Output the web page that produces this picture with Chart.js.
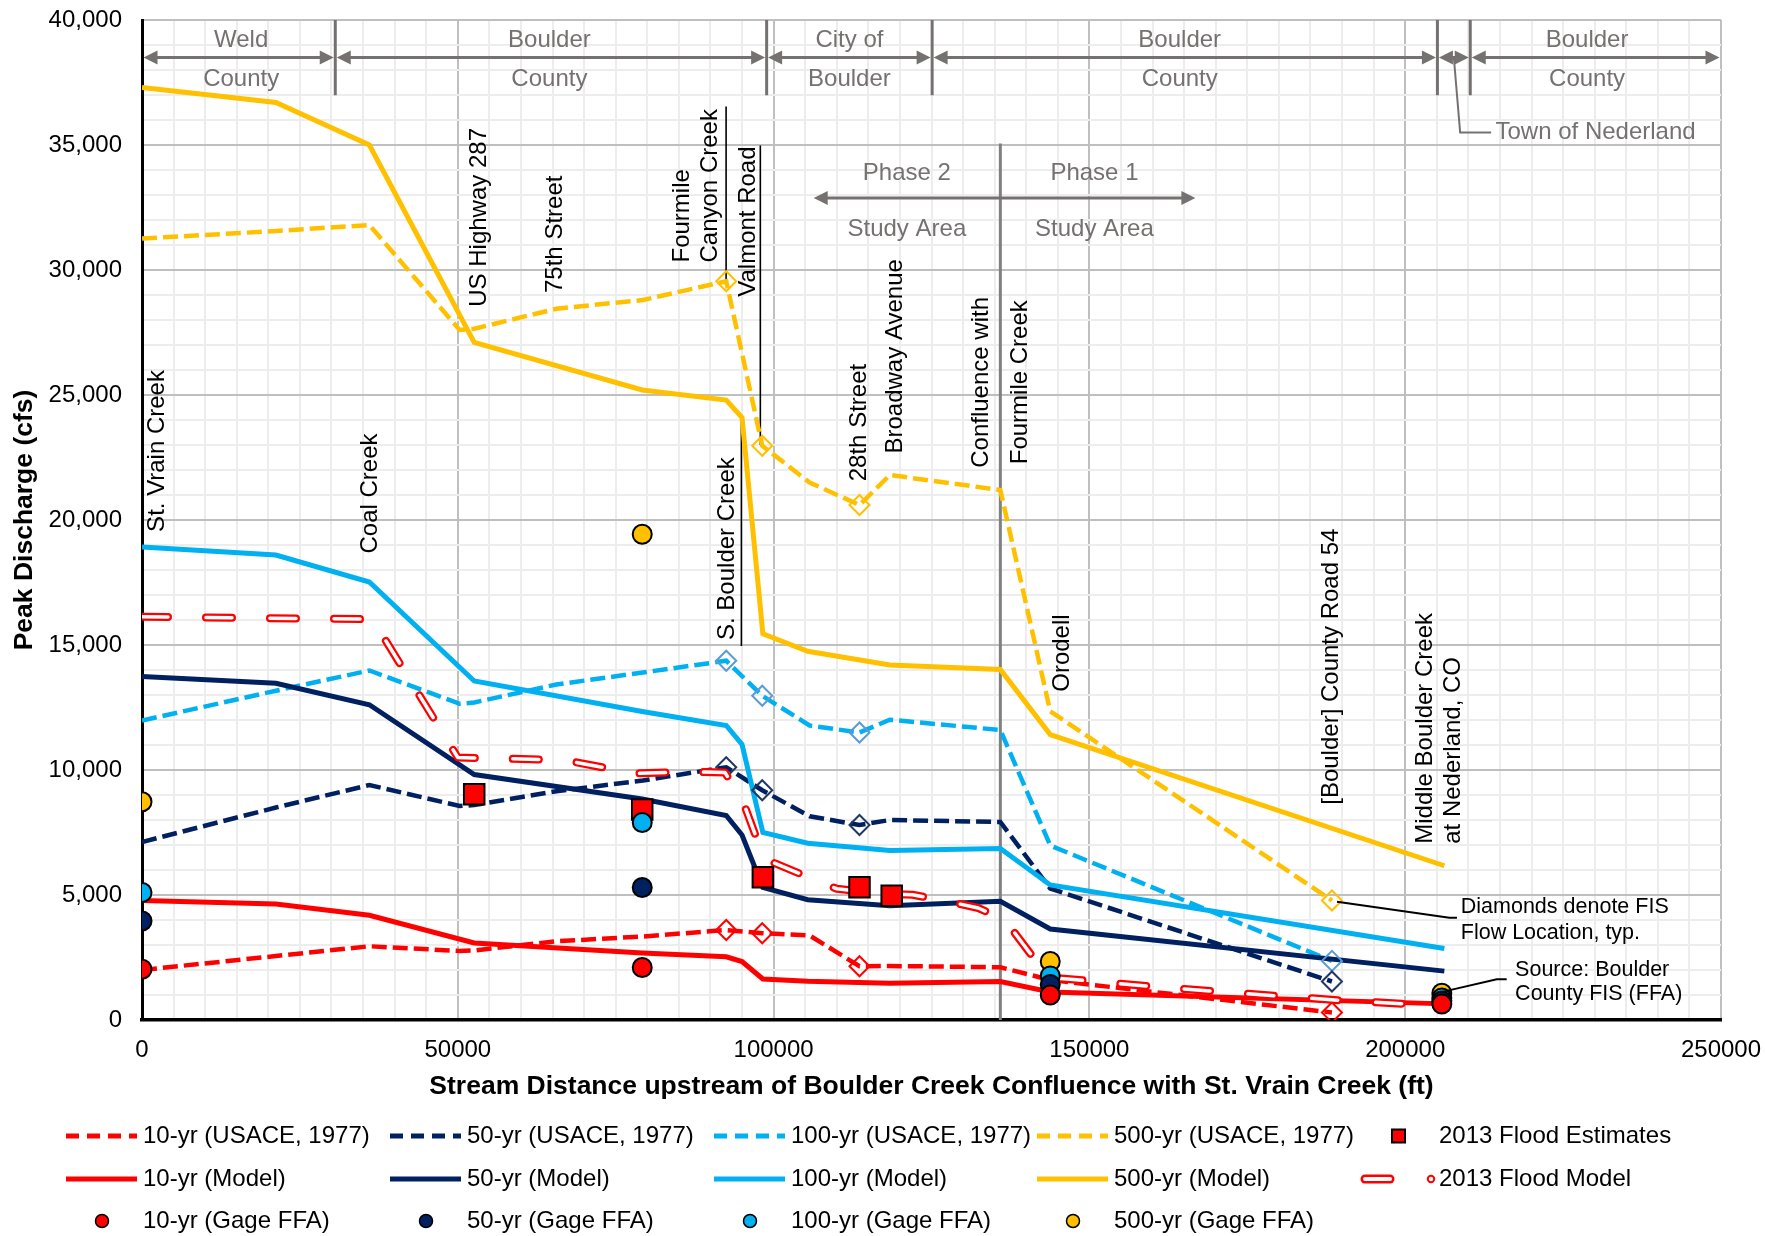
<!DOCTYPE html>
<html>
<head>
<meta charset="utf-8">
<title>Boulder Creek Peak Discharge Profiles</title>
<script src="https://cdn.jsdelivr.net/npm/chart.js@4.4.1/dist/chart.umd.min.js"></script>
<style>
  html, body { margin: 0; padding: 0; background: #ffffff; }
  canvas { display: block; }
</style>
</head>
<body>
<canvas id="chart" width="1765" height="1236"></canvas>
<script>
// ---- Stream stations (ft upstream of the St. Vrain confluence) and discharges (cfs) ----
const usaceX   = [0, 21200, 36000, 50300, 52600, 65600, 79300, 92500, 98200, 105700, 113600, 118400, 135900, 143800, 188400];
const usace10  = [2000, 2560, 2950, 2760, 2780, 3150, 3340, 3600, 3470, 3380, 2150, 2160, 2110, 1600, 300];
const usace50  = [7120, 8500, 9400, 8560, 8600, 9150, 9580, 10110, 9190, 8150, 7800, 8000, 7920, 5260, 1540];
const usace100 = [11980, 13170, 13980, 12650, 12700, 13420, 13900, 14370, 12970, 11780, 11500, 12010, 11600, 6980, 2365];
const usace500 = [31260, 31560, 31800, 27600, 27650, 28450, 28800, 29550, 22970, 21500, 20600, 21800, 21200, 12350, 4780];

// FIS flow locations (marked with diamonds on the USACE profiles)
const fisX = [92500, 98200, 113600, 188400];

const modelX   = [0, 21200, 36000, 52600, 79200, 92500, 95000, 98300, 105400, 118400, 135900, 143800, 206200];
const model10  = [4780, 4640, 4190, 3080, 2680, 2530, 2340, 1640, 1550, 1470, 1540, 1120, 645];
const model50  = [13740, 13470, 12610, 9820, 8840, 8180, 7400, 5300, 4810, 4570, 4750, 3640, 1955];
const model100 = [18920, 18600, 17520, 13560, 12340, 11780, 11020, 7500, 7070, 6780, 6860, 5400, 2860];
const model500 = [37300, 36700, 35000, 27100, 25200, 24800, 24100, 15450, 14750, 14200, 14020, 11420, 6170];

const flood2013X = [0, 36500, 50000, 66800, 78000, 86000, 92300, 95100, 98500, 107000, 110000, 117100, 122000, 127400, 132400, 136600, 143500, 146000, 160000, 175000, 190000, 206500];
const flood2013  = [16130, 16030, 10500, 10400, 9860, 9930, 9900, 8780, 6450, 5550, 5250, 5050, 5010, 4750, 4480, 4010, 1700, 1650, 1340, 1050, 780, 560];

const estimateX = [52600, 79200, 98300, 113600, 118700];
const estimate  = [9030, 8420, 5710, 5310, 4970];

const gageX   = [0, 79200, 143800, 205800];
const gage10  = [2030, 2100, 1000, 640];
const gage50  = [3960, 5300, 1420, 760];
const gage100 = [5100, 7900, 1765, 880];
const gage500 = [8730, 19430, 2340, 1070];

// Location labels along the profile: [text lines], station, discharge at text base
const locationLabels = [
  [['St. Vrain Creek'], 2400, 19525],
  [['Coal Creek'], 36090, 18660],
  [['US Highway 287'], 53360, 28530],
  [['75th Street'], 65460, 29080],
  [['Fourmile', 'Canyon Creek'], 85630, 30300],
  [['Valmont Road'], 96080, 28930],
  [['S. Boulder Creek'], 92730, 15200],
  [['28th Street'], 113560, 21550],
  [['Broadway Avenue'], 119340, 22660],
  [['Confluence with'], 132830, 22090],
  [['Fourmile Creek'], 139110, 22230],
  [['Orodell'], 145740, 13130],
  [['[Boulder] County Road 54'], 188240, 8610],
  [['Middle Boulder Creek', 'at Nederland, CO'], 203250, 7050]
];

// Jurisdiction bands along the top of the plot
const jurisdictionBounds = [0, 30600, 98900, 125100, 205100, 210300, 250000];
const jurisdictionText = [['Weld', 'County'], ['Boulder', 'County'], ['City of', 'Boulder'], ['Boulder', 'County'], null, ['Boulder', 'County']];
const jurisdictionTextX = [15700, 64500, 112000, 164300, null, 228800];

const xTickStep = 5000, xLabelStep = 50000;
const yTickStep = 1000, yLabelStep = 5000;

// ---- styling ----
const COL = { red: '#FF0000', navy: '#002060', blue: '#00B0F0', gold: '#FFC000', grey: '#767171' };
const DIAMOND = { red: '#FF0000', navy: '#1F3864', blue: '#5B9BD5', gold: '#FFC000' };
const FONT = '"Liberation Sans", Arial, Helvetica, sans-serif';
const DASH = [15, 6];
const FLOOD_DASH = [26, 38];

const toPoints = (xs, ys) => xs.map((x, i) => ({ x: x, y: ys[i] }));
const atStations = (xs, ys, st) => st.map(s => ({ x: s, y: ys[xs.indexOf(s)] }));

function usaceSet(label, ys, color) {
  return { label, data: toPoints(usaceX, ys), showLine: true, borderColor: color, borderWidth: 4.5,
           borderDash: DASH, pointRadius: 0, fill: false, order: 6 };
}
function modelSet(label, ys, color) {
  return { label, data: toPoints(modelX, ys), showLine: true, borderColor: color, borderWidth: 5,
           pointRadius: 0, fill: false, order: 5 };
}
function fisSet(ys, color) {
  return { label: 'FIS', data: atStations(usaceX, ys, fisX), showLine: false, pointStyle: 'rectRot',
           pointRadius: 10, borderWidth: 2, borderColor: color, backgroundColor: 'rgba(255,255,255,0)', order: 4 };
}
function gageSet(label, ys, color) {
  return { label, data: toPoints(gageX, ys), showLine: false, pointStyle: 'circle', pointRadius: 9.5,
           borderWidth: 2, borderColor: '#000000', backgroundColor: color, order: 0 };
}

const datasets = [
  usaceSet('10-yr (USACE, 1977)', usace10, COL.red),
  usaceSet('50-yr (USACE, 1977)', usace50, COL.navy),
  usaceSet('100-yr (USACE, 1977)', usace100, COL.blue),
  usaceSet('500-yr (USACE, 1977)', usace500, COL.gold),
  modelSet('10-yr (Model)', model10, COL.red),
  modelSet('50-yr (Model)', model50, COL.navy),
  modelSet('100-yr (Model)', model100, COL.blue),
  modelSet('500-yr (Model)', model500, COL.gold),
  fisSet(usace10, DIAMOND.red),
  fisSet(usace50, DIAMOND.navy),
  fisSet(usace100, DIAMOND.blue),
  fisSet(usace500, DIAMOND.gold),
  { label: '2013 Flood Model', data: toPoints(flood2013X, flood2013), showLine: true, borderColor: COL.red,
    borderWidth: 8, borderDash: FLOOD_DASH, borderCapStyle: 'round', borderJoinStyle: 'round', pointRadius: 0, order: 3 },
  { label: '2013 Flood Model (core)', data: toPoints(flood2013X, flood2013), showLine: true, borderColor: '#FFFFFF',
    borderWidth: 3.5, borderDash: FLOOD_DASH, borderCapStyle: 'round', borderJoinStyle: 'round', pointRadius: 0, order: 2 },
  { label: '2013 Flood Estimates', data: toPoints(estimateX, estimate), showLine: false, pointStyle: 'rect',
    pointRadius: 14.5, borderWidth: 2, borderColor: '#000000', backgroundColor: COL.red, order: 1 },
  gageSet('10-yr (Gage FFA)', gage10, COL.red),
  gageSet('50-yr (Gage FFA)', gage50, COL.navy),
  gageSet('100-yr (Gage FFA)', gage100, COL.blue),
  gageSet('500-yr (Gage FFA)', gage500, COL.gold)
];

// ---- legend layout ----
const legendRows = [
  [['dash', COL.red, '10-yr (USACE, 1977)'], ['dash', COL.navy, '50-yr (USACE, 1977)'], ['dash', COL.blue, '100-yr (USACE, 1977)'], ['dash', COL.gold, '500-yr (USACE, 1977)'], ['square', COL.red, '2013 Flood Estimates']],
  [['solid', COL.red, '10-yr (Model)'], ['solid', COL.navy, '50-yr (Model)'], ['solid', COL.blue, '100-yr (Model)'], ['solid', COL.gold, '500-yr (Model)'], ['flood', COL.red, '2013 Flood Model']],
  [['dot', COL.red, '10-yr (Gage FFA)'], ['dot', COL.navy, '50-yr (Gage FFA)'], ['dot', COL.blue, '100-yr (Gage FFA)'], ['dot', COL.gold, '500-yr (Gage FFA)']]
];

function arrowHead(ctx, x, y, dir) {
  const L = 14, W = 7;
  ctx.beginPath();
  ctx.moveTo(x, y);
  ctx.lineTo(x - dir * L, y - W);
  ctx.lineTo(x - dir * L, y + W);
  ctx.closePath();
  ctx.fill();
}
function doubleArrow(ctx, x1, x2, y) {
  ctx.beginPath();
  ctx.moveTo(x1 + 6, y); ctx.lineTo(x2 - 6, y);
  ctx.stroke();
  arrowHead(ctx, x1, y, -1);
  arrowHead(ctx, x2, y, 1);
}
function vLine(ctx, x, y1, y2) {
  ctx.beginPath(); ctx.moveTo(x, y1); ctx.lineTo(x, y2); ctx.stroke();
}

const annotationPlugin = {
  id: 'profileAnnotations',
  beforeDatasetsDraw(chart) {
    const { ctx } = chart;
    const xs = chart.scales.x, ys = chart.scales.y;
    const X = v => xs.getPixelForValue(v), Y = v => ys.getPixelForValue(v);
    ctx.save();
    // phase division at the Fourmile Creek confluence
    ctx.strokeStyle = '#808080'; ctx.lineWidth = 3;
    vLine(ctx, X(135900), Y(35060), Y(0));
    // tributary / crossing leader lines
    ctx.strokeStyle = '#000000'; ctx.lineWidth = 1.6;
    vLine(ctx, X(92480), Y(36540), Y(29600));
    vLine(ctx, X(97900), Y(34980), Y(23000));
    vLine(ctx, X(94900), Y(24190), Y(14960));
    ctx.restore();
  },
  afterDatasetsDraw(chart) {
    const { ctx } = chart;
    const xs = chart.scales.x, ys = chart.scales.y;
    const X = v => xs.getPixelForValue(v), Y = v => ys.getPixelForValue(v);
    ctx.save();

    // jurisdiction bands
    ctx.strokeStyle = COL.grey; ctx.fillStyle = COL.grey; ctx.lineWidth = 3;
    for (let i = 1; i < jurisdictionBounds.length - 1; i++) {
      vLine(ctx, X(jurisdictionBounds[i]), Y(40000), Y(36990));
    }
    for (let i = 0; i < jurisdictionBounds.length - 1; i++) {
      doubleArrow(ctx, X(jurisdictionBounds[i]) + 1.5, X(jurisdictionBounds[i + 1]) - 1.5, Y(38500));
    }
    ctx.font = '24px ' + FONT; ctx.textAlign = 'center'; ctx.textBaseline = 'middle';
    jurisdictionText.forEach((t, i) => {
      if (!t) return;
      ctx.fillText(t[0], X(jurisdictionTextX[i]), Y(39200));
      ctx.fillText(t[1], X(jurisdictionTextX[i]), Y(37620));
    });
    // Town of Nederland leader
    ctx.lineWidth = 2;
    ctx.beginPath();
    ctx.moveTo(X(207700), Y(38500));
    ctx.lineTo(X(208700), Y(35500));
    ctx.lineTo(X(213600), Y(35500));
    ctx.stroke();
    ctx.textAlign = 'left';
    ctx.fillText('Town of Nederland', X(214300), Y(35500));

    // study-area phases
    ctx.lineWidth = 3;
    doubleArrow(ctx, X(106350), X(166780), Y(32880));
    ctx.textAlign = 'center';
    ctx.fillText('Phase 2', X(121100), Y(33880));
    ctx.fillText('Study Area', X(121100), Y(31610));
    ctx.fillText('Phase 1', X(150800), Y(33880));
    ctx.fillText('Study Area', X(150800), Y(31610));

    // location labels (vertical text, reading upward)
    ctx.fillStyle = '#000000';
    ctx.font = '24px ' + FONT;
    locationLabels.forEach(([lines, sx, sy]) => {
      lines.forEach((txt, k) => {
        ctx.save();
        ctx.translate(X(sx) + k * 27.5, Y(sy));
        ctx.rotate(-Math.PI / 2);
        ctx.textAlign = 'left'; ctx.textBaseline = 'middle';
        ctx.fillText(txt, 0, 0);
        ctx.restore();
      });
    });

    // notes with leaders
    ctx.strokeStyle = '#000000'; ctx.lineWidth = 2;
    ctx.beginPath();
    ctx.moveTo(X(189200), Y(4730)); ctx.lineTo(X(207000), Y(4090)); ctx.lineTo(X(208200), Y(4090));
    ctx.stroke();
    ctx.beginPath();
    ctx.moveTo(X(206040), Y(1135)); ctx.lineTo(X(214500), Y(1630)); ctx.lineTo(X(216070), Y(1630));
    ctx.stroke();
    ctx.font = '21.5px ' + FONT; ctx.textAlign = 'left'; ctx.textBaseline = 'middle';
    ctx.fillText('Diamonds denote FIS', X(208800), Y(4500));
    ctx.fillText('Flow Location, typ.', X(208800), Y(3470));
    ctx.fillText('Source: Boulder', X(217400), Y(1990));
    ctx.fillText('County FIS (FFA)', X(217400), Y(1055));
    ctx.restore();
  },
  afterDraw(chart) {
    const { ctx, chartArea } = chart;
    ctx.save();
    // axis titles
    ctx.fillStyle = '#000000';
    ctx.font = 'bold 26.5px ' + FONT;
    ctx.textAlign = 'center'; ctx.textBaseline = 'middle';
    ctx.fillText('Stream Distance upstream of Boulder Creek Confluence with St. Vrain Creek (ft)',
                 (chartArea.left + chartArea.right) / 2, 1087);
    ctx.save();
    ctx.translate(25, (chartArea.top + chartArea.bottom) / 2);
    ctx.rotate(-Math.PI / 2);
    ctx.fillText('Peak Discharge (cfs)', 0, 0);
    ctx.restore();

    // legend
    const colX = [66, 390, 714, 1037];
    const rowY = [1136, 1179, 1221];
    ctx.font = '24px ' + FONT;
    ctx.textBaseline = 'middle'; ctx.textAlign = 'left';
    legendRows.forEach((row, r) => {
      row.forEach(([kind, color, label], c) => {
        const y = rowY[r];
        const x0 = c < 4 ? colX[c] : 1360;
        const tx = c < 4 ? x0 + 77 : 1439;
        ctx.save();
        if (kind === 'dash' || kind === 'solid') {
          ctx.strokeStyle = color; ctx.lineWidth = 5;
          ctx.setLineDash(kind === 'dash' ? [13, 8] : []);
          ctx.beginPath(); ctx.moveTo(x0, y); ctx.lineTo(x0 + 71, y); ctx.stroke();
        } else if (kind === 'dot') {
          ctx.fillStyle = color; ctx.strokeStyle = '#000000'; ctx.lineWidth = 1.5;
          ctx.beginPath(); ctx.arc(x0 + 36, y, 6.5, 0, Math.PI * 2); ctx.fill(); ctx.stroke();
        } else if (kind === 'square') {
          ctx.fillStyle = color; ctx.strokeStyle = '#000000'; ctx.lineWidth = 2;
          ctx.fillRect(1392, y - 6.5, 13, 13); ctx.strokeRect(1392, y - 6.5, 13, 13);
        } else if (kind === 'flood') {
          ctx.lineCap = 'round';
          ctx.strokeStyle = color; ctx.lineWidth = 9;
          ctx.beginPath(); ctx.moveTo(1365, y); ctx.lineTo(1390, y); ctx.stroke();
          ctx.strokeStyle = '#FFFFFF'; ctx.lineWidth = 4;
          ctx.beginPath(); ctx.moveTo(1365, y); ctx.lineTo(1390, y); ctx.stroke();
          ctx.strokeStyle = color; ctx.fillStyle = '#FFFFFF'; ctx.lineWidth = 2;
          ctx.beginPath(); ctx.arc(1431, y, 3.2, 0, Math.PI * 2); ctx.fill(); ctx.stroke();
        }
        ctx.restore();
        ctx.fillStyle = '#000000';
        ctx.fillText(label, tx, y);
      });
    });
    ctx.restore();
  }
};

const majorGrid = '#BFBFBF', minorGrid = '#EDEDED';

new Chart(document.getElementById('chart'), {
  type: 'scatter',
  data: { datasets },
  options: {
    responsive: false,
    animation: false,
    events: [],
    layout: { padding: { top: 20, right: 44, left: 0, bottom: 0 } },
    plugins: { legend: { display: false }, tooltip: { enabled: false } },
    elements: { line: { tension: 0 } },
    scales: {
      x: {
        type: 'linear', min: 0, max: 250000,
        afterFit: s => { s.height = 216; s.paddingLeft = 0; s.paddingRight = 0; },
        border: { display: true, color: '#000000', width: 3.5 },
        grid: {
          drawTicks: false,
          color: c => (c.tick && c.tick.value % xLabelStep === 0) ? majorGrid : minorGrid,
          lineWidth: 2
        },
        ticks: {
          stepSize: xTickStep, autoSkip: false, maxRotation: 0, minRotation: 0,
          padding: 16, color: '#000000', font: { family: FONT, size: 24 },
          callback: v => (v % xLabelStep === 0 ? String(v) : '')
        }
      },
      y: {
        type: 'linear', min: 0, max: 40000,
        afterFit: s => { s.width = 142; s.paddingTop = 0; s.paddingBottom = 0; },
        border: { display: true, color: '#000000', width: 3 },
        grid: {
          drawTicks: false,
          color: c => (c.tick && c.tick.value % yLabelStep === 0) ? majorGrid : minorGrid,
          lineWidth: 2
        },
        ticks: {
          stepSize: yTickStep, autoSkip: false, padding: 20, color: '#000000',
          font: { family: FONT, size: 24 },
          callback: v => (v % yLabelStep === 0 ? v.toLocaleString('en-US') : '')
        }
      }
    }
  },
  plugins: [annotationPlugin]
});
</script>
</body>
</html>
